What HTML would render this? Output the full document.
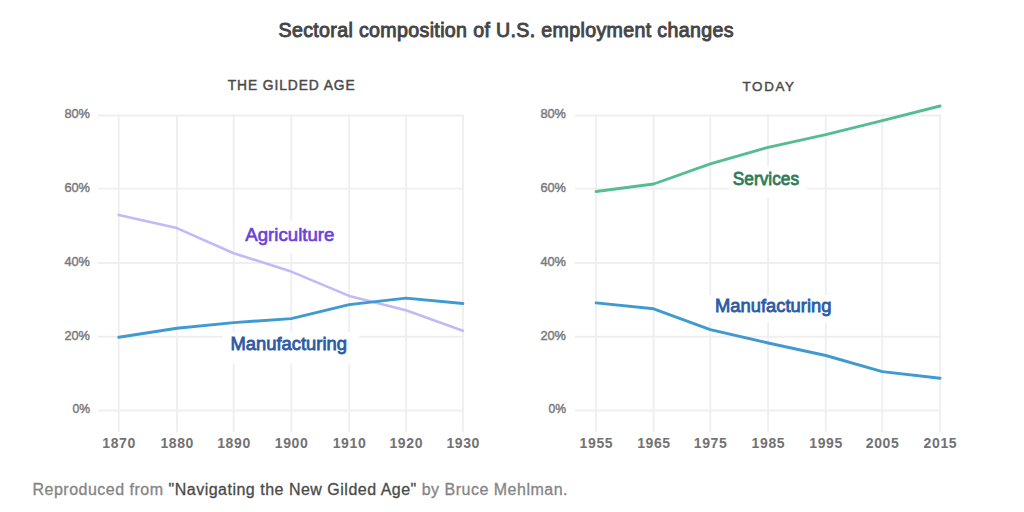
<!DOCTYPE html><html><head><meta charset="utf-8"><style>html,body{margin:0;padding:0;background:#fff;width:1024px;height:512px;overflow:hidden}svg{display:block}</style></head><body><svg width="1024" height="512" viewBox="0 0 1024 512">
<rect width="1024" height="512" fill="#fff"/>
<text x="278.5" y="36.7" font-family="'Liberation Sans', sans-serif" font-size="19.6" font-weight="normal" fill="#474747" stroke="#444" stroke-width="0.9" textLength="455" lengthAdjust="spacing">Sectoral composition of U.S. employment changes</text>
<text x="227.7" y="89.9" font-family="'Liberation Sans', sans-serif" font-size="13.8" font-weight="normal" fill="#4a4a4a" stroke="#4a4a4a" stroke-width="0.45" textLength="127" lengthAdjust="spacing">THE GILDED AGE</text>
<text x="742.5" y="90.8" font-family="'Liberation Sans', sans-serif" font-size="13.4" font-weight="normal" fill="#4a4a4a" stroke="#4a4a4a" stroke-width="0.45" textLength="51.5" lengthAdjust="spacing">TODAY</text>
<line x1="97.9" y1="115.45" x2="463.9" y2="115.45" stroke="#efefef" stroke-width="1.9"/>
<line x1="97.9" y1="188.60" x2="463.9" y2="188.60" stroke="#efefef" stroke-width="1.9"/>
<line x1="97.9" y1="263.00" x2="463.9" y2="263.00" stroke="#efefef" stroke-width="1.9"/>
<line x1="97.9" y1="336.70" x2="463.9" y2="336.70" stroke="#efefef" stroke-width="1.9"/>
<line x1="97.9" y1="410.45" x2="463.9" y2="410.45" stroke="#efefef" stroke-width="1.9"/>
<line x1="118.75" y1="114.45" x2="118.75" y2="431.8" stroke="#efefef" stroke-width="1.9"/>
<line x1="176.90" y1="114.45" x2="176.90" y2="431.8" stroke="#efefef" stroke-width="1.9"/>
<line x1="233.70" y1="114.45" x2="233.70" y2="431.8" stroke="#efefef" stroke-width="1.9"/>
<line x1="291.25" y1="114.45" x2="291.25" y2="431.8" stroke="#efefef" stroke-width="1.9"/>
<line x1="349.20" y1="114.45" x2="349.20" y2="431.8" stroke="#efefef" stroke-width="1.9"/>
<line x1="405.97" y1="114.45" x2="405.97" y2="431.8" stroke="#efefef" stroke-width="1.9"/>
<line x1="462.90" y1="114.45" x2="462.90" y2="431.8" stroke="#efefef" stroke-width="1.9"/>
<text x="90.0" y="118.35" font-family="'Liberation Sans', sans-serif" font-size="13.6" fill="#7a7a7a" stroke="#7a7a7a" stroke-width="0.45" text-anchor="end" textLength="25.6" lengthAdjust="spacingAndGlyphs">80%</text>
<text x="90.0" y="191.50" font-family="'Liberation Sans', sans-serif" font-size="13.6" fill="#7a7a7a" stroke="#7a7a7a" stroke-width="0.45" text-anchor="end" textLength="25.6" lengthAdjust="spacingAndGlyphs">60%</text>
<text x="90.0" y="265.90" font-family="'Liberation Sans', sans-serif" font-size="13.6" fill="#7a7a7a" stroke="#7a7a7a" stroke-width="0.45" text-anchor="end" textLength="25.6" lengthAdjust="spacingAndGlyphs">40%</text>
<text x="90.0" y="339.60" font-family="'Liberation Sans', sans-serif" font-size="13.6" fill="#7a7a7a" stroke="#7a7a7a" stroke-width="0.45" text-anchor="end" textLength="25.6" lengthAdjust="spacingAndGlyphs">20%</text>
<text x="90.0" y="413.35" font-family="'Liberation Sans', sans-serif" font-size="13.6" fill="#7a7a7a" stroke="#7a7a7a" stroke-width="0.45" text-anchor="end" textLength="17.6" lengthAdjust="spacingAndGlyphs">0%</text>
<text x="118.75" y="447.8" font-family="'Liberation Sans', sans-serif" font-size="14" font-weight="bold" fill="#727272" text-anchor="middle" textLength="33" lengthAdjust="spacing">1870</text>
<text x="176.90" y="447.8" font-family="'Liberation Sans', sans-serif" font-size="14" font-weight="bold" fill="#727272" text-anchor="middle" textLength="33" lengthAdjust="spacing">1880</text>
<text x="233.70" y="447.8" font-family="'Liberation Sans', sans-serif" font-size="14" font-weight="bold" fill="#727272" text-anchor="middle" textLength="33" lengthAdjust="spacing">1890</text>
<text x="291.25" y="447.8" font-family="'Liberation Sans', sans-serif" font-size="14" font-weight="bold" fill="#727272" text-anchor="middle" textLength="33" lengthAdjust="spacing">1900</text>
<text x="349.20" y="447.8" font-family="'Liberation Sans', sans-serif" font-size="14" font-weight="bold" fill="#727272" text-anchor="middle" textLength="33" lengthAdjust="spacing">1910</text>
<text x="405.97" y="447.8" font-family="'Liberation Sans', sans-serif" font-size="14" font-weight="bold" fill="#727272" text-anchor="middle" textLength="33" lengthAdjust="spacing">1920</text>
<text x="462.90" y="447.8" font-family="'Liberation Sans', sans-serif" font-size="14" font-weight="bold" fill="#727272" text-anchor="middle" textLength="33" lengthAdjust="spacing">1930</text>
<line x1="575.0" y1="115.45" x2="941.1" y2="115.45" stroke="#efefef" stroke-width="1.9"/>
<line x1="575.0" y1="188.60" x2="941.1" y2="188.60" stroke="#efefef" stroke-width="1.9"/>
<line x1="575.0" y1="263.00" x2="941.1" y2="263.00" stroke="#efefef" stroke-width="1.9"/>
<line x1="575.0" y1="336.70" x2="941.1" y2="336.70" stroke="#efefef" stroke-width="1.9"/>
<line x1="575.0" y1="410.45" x2="941.1" y2="410.45" stroke="#efefef" stroke-width="1.9"/>
<line x1="596.10" y1="114.45" x2="596.10" y2="431.8" stroke="#efefef" stroke-width="1.9"/>
<line x1="653.66" y1="114.45" x2="653.66" y2="431.8" stroke="#efefef" stroke-width="1.9"/>
<line x1="710.28" y1="114.45" x2="710.28" y2="431.8" stroke="#efefef" stroke-width="1.9"/>
<line x1="768.10" y1="114.45" x2="768.10" y2="431.8" stroke="#efefef" stroke-width="1.9"/>
<line x1="825.80" y1="114.45" x2="825.80" y2="431.8" stroke="#efefef" stroke-width="1.9"/>
<line x1="882.28" y1="114.45" x2="882.28" y2="431.8" stroke="#efefef" stroke-width="1.9"/>
<line x1="940.10" y1="114.45" x2="940.10" y2="431.8" stroke="#efefef" stroke-width="1.9"/>
<text x="566.0" y="118.35" font-family="'Liberation Sans', sans-serif" font-size="13.6" fill="#7a7a7a" stroke="#7a7a7a" stroke-width="0.45" text-anchor="end" textLength="25.6" lengthAdjust="spacingAndGlyphs">80%</text>
<text x="566.0" y="191.50" font-family="'Liberation Sans', sans-serif" font-size="13.6" fill="#7a7a7a" stroke="#7a7a7a" stroke-width="0.45" text-anchor="end" textLength="25.6" lengthAdjust="spacingAndGlyphs">60%</text>
<text x="566.0" y="265.90" font-family="'Liberation Sans', sans-serif" font-size="13.6" fill="#7a7a7a" stroke="#7a7a7a" stroke-width="0.45" text-anchor="end" textLength="25.6" lengthAdjust="spacingAndGlyphs">40%</text>
<text x="566.0" y="339.60" font-family="'Liberation Sans', sans-serif" font-size="13.6" fill="#7a7a7a" stroke="#7a7a7a" stroke-width="0.45" text-anchor="end" textLength="25.6" lengthAdjust="spacingAndGlyphs">20%</text>
<text x="566.0" y="413.35" font-family="'Liberation Sans', sans-serif" font-size="13.6" fill="#7a7a7a" stroke="#7a7a7a" stroke-width="0.45" text-anchor="end" textLength="17.6" lengthAdjust="spacingAndGlyphs">0%</text>
<text x="596.10" y="447.8" font-family="'Liberation Sans', sans-serif" font-size="14" font-weight="bold" fill="#727272" text-anchor="middle" textLength="33" lengthAdjust="spacing">1955</text>
<text x="653.66" y="447.8" font-family="'Liberation Sans', sans-serif" font-size="14" font-weight="bold" fill="#727272" text-anchor="middle" textLength="33" lengthAdjust="spacing">1965</text>
<text x="710.28" y="447.8" font-family="'Liberation Sans', sans-serif" font-size="14" font-weight="bold" fill="#727272" text-anchor="middle" textLength="33" lengthAdjust="spacing">1975</text>
<text x="768.10" y="447.8" font-family="'Liberation Sans', sans-serif" font-size="14" font-weight="bold" fill="#727272" text-anchor="middle" textLength="33" lengthAdjust="spacing">1985</text>
<text x="825.80" y="447.8" font-family="'Liberation Sans', sans-serif" font-size="14" font-weight="bold" fill="#727272" text-anchor="middle" textLength="33" lengthAdjust="spacing">1995</text>
<text x="882.28" y="447.8" font-family="'Liberation Sans', sans-serif" font-size="14" font-weight="bold" fill="#727272" text-anchor="middle" textLength="33" lengthAdjust="spacing">2005</text>
<text x="940.10" y="447.8" font-family="'Liberation Sans', sans-serif" font-size="14" font-weight="bold" fill="#727272" text-anchor="middle" textLength="33" lengthAdjust="spacing">2015</text>
<rect x="237" y="220.6" width="106" height="32.5" fill="#fff"/>
<rect x="222.5" y="332.0" width="136.7" height="31.399999999999977" fill="#fff"/>
<rect x="728.75" y="166.25" width="78.14999999999998" height="31.849999999999994" fill="#fff"/>
<rect x="706" y="295" width="129" height="27.5" fill="#fff"/>
<path d="M118.75,214.90 L176.90,228.10 L233.70,253.20 L291.25,271.60 L349.20,295.90 L405.97,310.20 L462.90,330.80" fill="none" stroke="#c2baf8" stroke-width="2.6" stroke-linejoin="round" stroke-linecap="round"/>
<path d="M118.75,337.25 L176.90,328.20 L233.70,322.60 L291.25,318.60 L349.20,304.60 L405.97,298.10 L462.90,303.50" fill="none" stroke="#3f9ad2" stroke-width="2.9" stroke-linejoin="round" stroke-linecap="round"/>
<path d="M596.10,191.50 L653.66,184.00 L710.28,163.90 L768.10,147.30 L825.80,134.60 L882.28,120.60 L940.10,106.00" fill="none" stroke="#55bd91" stroke-width="2.9" stroke-linejoin="round" stroke-linecap="round"/>
<path d="M596.10,302.90 L653.66,308.80 L710.28,329.60 L768.10,343.00 L825.80,355.50 L882.28,371.60 L940.10,378.20" fill="none" stroke="#3f9ad2" stroke-width="2.9" stroke-linejoin="round" stroke-linecap="round"/>
<text x="245.25" y="240.7" font-family="'Liberation Sans', sans-serif" font-size="17.9" font-weight="normal" fill="#6842da" stroke="#6842da" stroke-width="0.6" textLength="89.2" lengthAdjust="spacingAndGlyphs">Agriculture</text>
<text x="230.5" y="349.5" font-family="'Liberation Sans', sans-serif" font-size="17.9" font-weight="normal" fill="#2c5aa3" stroke="#2c5aa3" stroke-width="0.78" textLength="116.4" lengthAdjust="spacingAndGlyphs">Manufacturing</text>
<text x="732.75" y="184.6" font-family="'Liberation Sans', sans-serif" font-size="17.9" font-weight="normal" fill="#2f7a58" stroke="#2f7a58" stroke-width="0.78" textLength="66.3" lengthAdjust="spacingAndGlyphs">Services</text>
<text x="715" y="311.7" font-family="'Liberation Sans', sans-serif" font-size="17.9" font-weight="normal" fill="#2c5aa3" stroke="#2c5aa3" stroke-width="0.78" textLength="116.4" lengthAdjust="spacingAndGlyphs">Manufacturing</text>
<text x="32.5" y="495.2" font-family="'Liberation Sans', sans-serif" font-size="16" fill="#858585" stroke="#858585" stroke-width="0.3" textLength="535" lengthAdjust="spacing">Reproduced from <tspan fill="#4a4a4a" stroke="#4a4a4a">"Navigating the New Gilded Age"</tspan> by Bruce Mehlman.</text>
</svg></body></html>
